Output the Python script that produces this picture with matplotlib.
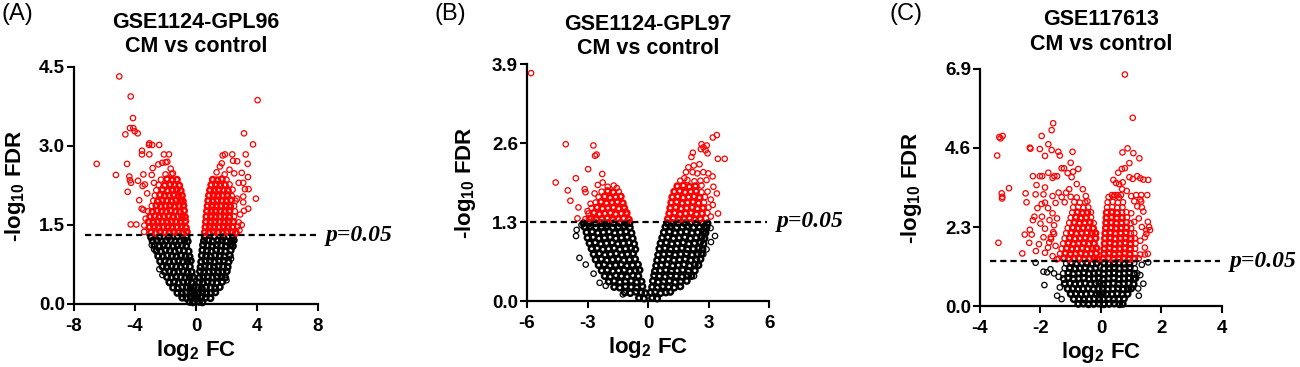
import numpy as np
import matplotlib
matplotlib.use("Agg")  # headless
import matplotlib.pyplot as plt

plt.rcParams["font.family"] = "Liberation Sans"
plt.rcParams["font.weight"] = "bold"
plt.rcParams["mathtext.fontset"] = "custom"
plt.rcParams["mathtext.rm"] = "Liberation Sans:bold"
plt.rcParams["mathtext.it"] = "Liberation Sans:bold"
plt.rcParams["mathtext.bf"] = "Liberation Sans:bold"
plt.rcParams["mathtext.default"] = "bf"

RED = "#ff0000"
FDR_CUTOFF = 0.05

TITLES = ["GSE1124-GPL96\nCM vs control", "GSE1124-GPL97\nCM vs control",
          "GSE117613\nCM vs control"]
LETTERS = ["(A)", "(B)", "(C)"]
XTICKS = [[-8, -4, 0, 4, 8], [-6, -3, 0, 3, 6], [-4, -2, 0, 2, 4]]
YTICKS = [[0.0, 1.5, 3.0, 4.5], [0.0, 1.3, 2.6, 3.9], [0.0, 2.3, 4.6, 6.9]]

# (log2 FC, -log10 FDR).
# *_CORE: the over-plotted dense cores (positions estimated), *_OUT: single marks
A_BLACK_CORE = [
    (-0.42, .04), (-0.2, .03), (0.2, .04), (0.42, .03),
    (-0.9, .12), (-0.62, .11), (-0.35, .13), (-0.1, .12), (0.1, .11), (0.35, .13), (0.64, .12), (0.95, .11),
    (-1.22, .21), (-0.93, .2), (-0.64, .22), (-0.36, .21), (-0.12, .2), (0.13, .21), (0.4, .22), (0.68, .2),
    (0.97, .21), (1.27, .22),
    (-1.5, .31), (-1.2, .3), (-0.9, .32), (-0.6, .31), (-0.34, .3), (-0.15, .32), (0.15, .31), (0.38, .3),
    (0.66, .32), (0.96, .31), (1.26, .3), (1.56, .32),
    (-1.74, .41), (-1.44, .42), (-1.14, .4), (-0.84, .41), (-0.54, .42), (-0.28, .4), (0.2, .41), (0.46, .4),
    (0.76, .42), (1.06, .41), (1.36, .4), (1.72, .42),
    (-1.9, .51), (-1.6, .5), (-1.3, .52), (-1.0, .51), (-0.7, .5), (-0.42, .52), (-0.2, .51), (0.22, .5),
    (0.48, .52), (0.78, .51), (1.08, .5), (1.38, .52), (1.68, .51), (1.92, .5),
    (-2.05, .61), (-1.75, .62), (-1.45, .6), (-1.15, .61), (-0.85, .62), (-0.55, .6), (-0.28, .61), (0.26, .62),
    (0.54, .6), (0.84, .61), (1.14, .62), (1.44, .6), (1.74, .61), (2.02, .62),
    (-2.2, .71), (-1.9, .7), (-1.6, .72), (-1.3, .71), (-1.0, .7), (-0.7, .72), (-0.4, .71), (0.3, .7),
    (0.58, .72), (0.88, .71), (1.18, .7), (1.48, .72), (1.78, .71), (2.08, .7),
    (-2.35, .81), (-2.05, .82), (-1.75, .8), (-1.45, .81), (-1.15, .82), (-0.85, .8), (-0.55, .81), (-0.34, .82),
    (0.34, .8), (0.62, .81), (0.92, .82), (1.22, .8), (1.52, .81), (1.82, .82), (2.14, .8),
    (-2.48, .91), (-2.18, .9), (-1.88, .92), (-1.58, .91), (-1.28, .9), (-0.98, .92), (-0.68, .91), (-0.42, .9),
    (0.38, .92), (0.66, .91), (0.96, .9), (1.26, .92), (1.56, .91), (1.86, .9), (2.22, .92),
    (-2.6, 1.01), (-2.3, 1.0), (-2.0, 1.02), (-1.7, 1.01), (-1.4, 1.0), (-1.1, 1.02), (-0.8, 1.01), (-0.48, 1.0),
    (0.42, 1.02), (0.72, 1.01), (1.02, 1.0), (1.32, 1.02), (1.62, 1.01), (1.92, 1.0), (2.28, 1.02),
    (-2.72, 1.11), (-2.42, 1.1), (-2.12, 1.12), (-1.82, 1.11), (-1.52, 1.1), (-1.22, 1.12), (-0.92, 1.11),
    (-0.64, 1.1), (0.46, 1.12), (0.76, 1.11), (1.06, 1.1), (1.36, 1.12), (1.66, 1.11), (1.96, 1.1),
    (2.26, 1.12), (2.42, 1.1),
    (-2.85, 1.2), (-2.55, 1.21), (-2.25, 1.19), (-1.95, 1.2), (-1.65, 1.21), (-1.35, 1.19), (-1.05, 1.2),
    (-0.75, 1.21), (-0.54, 1.19), (0.52, 1.2), (0.8, 1.21), (1.1, 1.19), (1.4, 1.2), (1.7, 1.21), (2.0, 1.19),
    (2.3, 1.2), (2.48, 1.21),
    (-2.95, 1.27), (-2.4, 1.27), (-1.8, 1.27), (-1.2, 1.28), (-0.62, 1.27), (0.58, 1.27), (1.2, 1.28),
    (1.8, 1.27), (2.42, 1.27),
]
A_BLACK_OUT = [
    (-1.77, .42), (1.75, .61), (-2.9, 1.12), (-2.75, 1.04), (-2.4, .66), (2.3, .86), (-2.2, .55), (2.0, .45),
]
A_RED_CORE = [
    (-2.95, 1.36), (-2.65, 1.35), (-2.35, 1.37), (-2.05, 1.36), (-1.75, 1.35), (-1.45, 1.37), (-1.15, 1.36),
    (-0.85, 1.35), (-0.6, 1.37),
    (-3.05, 1.46), (-2.75, 1.47), (-2.45, 1.45), (-2.15, 1.46), (-1.85, 1.47), (-1.55, 1.45), (-1.25, 1.46),
    (-0.95, 1.47), (-0.66, 1.45),
    (-3.1, 1.56), (-2.8, 1.55), (-2.5, 1.57), (-2.2, 1.56), (-1.9, 1.55), (-1.6, 1.57), (-1.3, 1.56),
    (-1.0, 1.55), (-0.7, 1.57),
    (-3.0, 1.66), (-2.7, 1.67), (-2.4, 1.65), (-2.1, 1.66), (-1.8, 1.67), (-1.5, 1.65), (-1.2, 1.66),
    (-0.92, 1.67), (-0.72, 1.65),
    (-2.85, 1.75), (-2.55, 1.77), (-2.25, 1.76), (-1.95, 1.75), (-1.65, 1.77), (-1.35, 1.76),
    (-1.05, 1.75), (-0.78, 1.77),
    (-2.6, 1.87), (-2.3, 1.85), (-2.0, 1.86), (-1.7, 1.87), (-1.4, 1.85), (-1.1, 1.86), (-0.82, 1.87),
    (-2.5, 1.95), (-2.2, 1.97), (-1.9, 1.96), (-1.6, 1.95), (-1.3, 1.97), (-1.02, 1.96), (-0.86, 1.95),
    (-2.35, 2.07), (-2.05, 2.05), (-1.75, 2.06), (-1.45, 2.07), (-1.15, 2.05), (-0.92, 2.06),
    (-2.2, 2.17), (-1.85, 2.15), (-1.55, 2.16), (-1.25, 2.17), (-1.0, 2.15),
    (-2.05, 2.25), (-1.7, 2.27), (-1.4, 2.26), (-1.1, 2.25),
    (-1.9, 2.37), (-1.55, 2.35), (-1.25, 2.36),
    (0.58, 1.36), (0.85, 1.35), (1.15, 1.37), (1.45, 1.36), (1.75, 1.35), (2.05, 1.37), (2.35, 1.36), (2.62, 1.35),
    (0.62, 1.46), (0.9, 1.47), (1.2, 1.45), (1.5, 1.46), (1.8, 1.47), (2.1, 1.45), (2.4, 1.46),
    (0.65, 1.56), (0.95, 1.55), (1.25, 1.57), (1.55, 1.56), (1.85, 1.55), (2.15, 1.57), (2.45, 1.56),
    (0.68, 1.66), (0.98, 1.67), (1.28, 1.65), (1.58, 1.66), (1.88, 1.67), (2.18, 1.65),
    (0.72, 1.76), (1.0, 1.75), (1.3, 1.77), (1.6, 1.76), (1.9, 1.75), (2.2, 1.77),
    (0.76, 1.86), (1.05, 1.87), (1.35, 1.85), (1.65, 1.86), (1.95, 1.87), (2.25, 1.85),
    (0.8, 1.96), (1.1, 1.95), (1.4, 1.97), (1.7, 1.96), (2.0, 1.95), (2.3, 1.97),
    (0.85, 2.06), (1.15, 2.07), (1.45, 2.05), (1.75, 2.06), (2.05, 2.07),
    (0.92, 2.16), (1.2, 2.15), (1.5, 2.17), (1.8, 2.16), (2.1, 2.15),
    (1.0, 2.26), (1.3, 2.27), (1.6, 2.25), (1.9, 2.26),
    (1.1, 2.36), (1.4, 2.35), (1.7, 2.37),
]
A_RED_OUT = [
    (-3.15, 1.76), (-2.9, 1.86), (-2.8, 1.96), (-2.7, 2.06), (-2.6, 2.16), (-2.45, 2.26), (-2.3, 2.36),
    (-2.0, 2.46), (-1.6, 2.47), (2.75, 1.47), (2.8, 1.55), (2.5, 1.66), (2.55, 1.76), (2.5, 1.86), (2.6, 1.96),
    (2.35, 2.05), (2.4, 2.17), (2.2, 2.27), (2.0, 2.36),
    (-5.03, 4.32), (-4.28, 3.94), (-4.13, 3.53), (-4.33, 3.34), (-4.11, 3.34), (-4.02, 3.28), (-3.82, 3.24),
    (-4.63, 3.22), (-3.06, 3.05), (-3.08, 3.02), (-2.87, 3.02), (-2.41, 3.02), (-3.54, 2.91), (-3.54, 2.84),
    (-3.06, 2.84), (-2.1, 2.84), (-1.77, 2.84), (-6.51, 2.66), (-4.52, 2.66), (-5.25, 2.45), (-4.37, 2.42),
    (-4.33, 2.35), (-4.26, 2.3), (-4.48, 2.13), (-3.8, 2.34), (-3.5, 2.24), (-3.35, 2.27), (-3.45, 2.46),
    (-3.72, 1.97), (-3.56, 1.81), (-3.45, 1.79), (-4.28, 1.51), (-3.91, 1.51), (-3.39, 1.49), (-3.4, 1.37),
    (-2.84, 2.58), (-2.47, 2.65), (-2.21, 2.68), (-1.99, 2.69), (-1.88, 2.7), (-1.66, 2.57), (-1.51, 2.48),
    (-3.2, 2.1), (-3.3, 1.62), (-2.75, 2.3), (-2.9, 2.45),
    (4.04, 3.87), (3.15, 3.24), (3.74, 3.03), (3.26, 2.84), (2.38, 2.84), (1.75, 2.82), (1.9, 2.84),
    (2.43, 2.72), (2.7, 2.71), (3.39, 2.66), (1.69, 2.67), (1.57, 2.61), (1.88, 2.46), (2.51, 2.48),
    (3.0, 2.49), (3.41, 2.41), (3.1, 2.3), (3.45, 2.18), (3.21, 2.18), (3.1, 2.04), (3.93, 2.0), (3.43, 1.81),
    (3.15, 1.77), (2.41, 1.37), (3.1, 1.93), (2.8, 2.3), (2.7, 2.0), (2.9, 1.7), (3.0, 1.5), (2.85, 1.4),
    (1.35, 2.5), (2.2, 2.55),
]

B_BLACK_CORE = [
    (-0.45, .05), (-0.2, .04), (0.2, .05), (0.45, .04),
    (-1.15, .14), (-0.88, .13), (-0.6, .15), (-0.34, .14), (-0.13, .13), (0.12, .14), (0.36, .15), (0.62, .13),
    (0.88, .14), (1.1, .15),
    (-1.68, .23), (-1.4, .22), (-1.12, .24), (-0.84, .23), (-0.56, .22), (-0.28, .24), (0.2, .23), (0.46, .22),
    (0.74, .24), (1.02, .23), (1.3, .22), (1.6, .24),
    (-1.95, .32), (-1.68, .33), (-1.4, .31), (-1.12, .32), (-0.84, .33), (-0.56, .31), (-0.32, .32), (0.24, .33),
    (0.5, .31), (0.78, .32), (1.06, .33), (1.34, .31), (1.62, .32), (1.92, .33),
    (-2.15, .41), (-1.88, .4), (-1.6, .42), (-1.32, .41), (-1.04, .4), (-0.76, .42), (-0.48, .41), (0.3, .42),
    (0.56, .41), (0.84, .4), (1.12, .42), (1.4, .41), (1.68, .4), (1.96, .42), (2.15, .41),
    (-2.3, .5), (-2.02, .51), (-1.74, .49), (-1.46, .5), (-1.18, .51), (-0.9, .49), (-0.62, .5), (-0.42, .51),
    (0.34, .49), (0.6, .5), (0.88, .51), (1.16, .49), (1.44, .5), (1.72, .51), (2.0, .49), (2.32, .5),
    (-2.45, .59), (-2.17, .6), (-1.89, .58), (-1.61, .59), (-1.33, .6), (-1.05, .58), (-0.77, .59), (-0.5, .6),
    (0.4, .58), (0.66, .59), (0.94, .6), (1.22, .58), (1.5, .59), (1.78, .6), (2.06, .58), (2.32, .6), (2.5, .59),
    (-2.6, .68), (-2.32, .69), (-2.04, .67), (-1.76, .68), (-1.48, .69), (-1.2, .67), (-0.92, .68), (-0.64, .69),
    (0.45, .67), (0.72, .68), (1.0, .69), (1.28, .67), (1.56, .68), (1.84, .69), (2.12, .67), (2.4, .68), (2.6, .69),
    (-2.7, .77), (-2.42, .78), (-2.14, .76), (-1.86, .77), (-1.58, .78), (-1.3, .76), (-1.02, .77), (-0.74, .78),
    (0.5, .76), (0.78, .77), (1.06, .78), (1.34, .76), (1.62, .77), (1.9, .78), (2.18, .76), (2.46, .77), (2.65, .78),
    (-2.8, .86), (-2.52, .87), (-2.24, .85), (-1.96, .86), (-1.68, .87), (-1.4, .85), (-1.12, .86), (-0.84, .87),
    (-0.63, .85), (0.56, .86), (0.84, .87), (1.12, .85), (1.4, .86), (1.68, .87), (1.96, .85), (2.24, .86),
    (2.52, .87), (2.7, .85),
    (-2.9, .95), (-2.62, .96), (-2.34, .94), (-2.06, .95), (-1.78, .96), (-1.5, .94), (-1.22, .95), (-0.94, .96),
    (-0.69, .94), (0.62, .95), (0.9, .96), (1.18, .94), (1.46, .95), (1.74, .96), (2.02, .94), (2.3, .95),
    (2.58, .96), (2.75, .94),
    (-3.0, 1.04), (-2.72, 1.05), (-2.44, 1.03), (-2.16, 1.04), (-1.88, 1.05), (-1.6, 1.03), (-1.32, 1.04),
    (-1.04, 1.05), (-0.76, 1.03), (0.7, 1.04), (0.98, 1.05), (1.26, 1.03), (1.54, 1.04), (1.82, 1.05),
    (2.1, 1.03), (2.38, 1.04), (2.66, 1.05), (2.8, 1.03),
    (-3.05, 1.13), (-2.77, 1.14), (-2.49, 1.12), (-2.21, 1.13), (-1.93, 1.14), (-1.65, 1.12), (-1.37, 1.13),
    (-1.09, 1.14), (-0.82, 1.12), (0.78, 1.13), (1.06, 1.14), (1.34, 1.12), (1.62, 1.13), (1.9, 1.14),
    (2.18, 1.12), (2.46, 1.13), (2.74, 1.14), (2.85, 1.12),
    (-3.15, 1.22), (-2.87, 1.23), (-2.59, 1.21), (-2.31, 1.22), (-2.03, 1.23), (-1.75, 1.21), (-1.47, 1.22),
    (-1.19, 1.23), (-0.9, 1.21), (0.86, 1.22), (1.14, 1.23), (1.42, 1.21), (1.7, 1.22), (1.98, 1.23),
    (2.26, 1.21), (2.54, 1.22), (2.82, 1.23), (2.9, 1.21),
    (-3.2, 1.28), (-2.9, 1.28), (-2.6, 1.28), (-2.3, 1.28), (-2.0, 1.28), (-1.7, 1.28), (-1.4, 1.28),
    (-1.1, 1.28), (-0.92, 1.28), (0.94, 1.28), (1.2, 1.28), (1.5, 1.28), (1.8, 1.28), (2.1, 1.28),
    (2.4, 1.28), (2.7, 1.28), (2.95, 1.28),
]
B_BLACK_OUT = [
    (-3.54, 1.17), (-3.57, 1.07), (-3.4, .71), (-3.09, .6), (-2.92, .95), (-2.1, .25), (-1.25, .11),
    (3.32, 1.07), (3.12, .97), (2.28, .41), (2.74, .77), (3.1, 1.2), (-3.3, 1.25), (-2.7, .45), (-2.4, .3),
    (2.9, .85),
]
B_RED_CORE = [
    (-2.83, 1.36), (-2.56, 1.34), (-2.29, 1.35), (-2.02, 1.36), (-1.75, 1.34), (-1.48, 1.35),
    (-1.21, 1.36), (-0.95, 1.34),
    (-2.68, 1.45), (-2.41, 1.43), (-2.14, 1.44), (-1.87, 1.45), (-1.6, 1.43), (-1.33, 1.44), (-1.06, 1.45),
    (-2.53, 1.54), (-2.26, 1.52), (-1.99, 1.53), (-1.72, 1.54), (-1.45, 1.52), (-1.18, 1.53),
    (-2.33, 1.63), (-2.06, 1.61), (-1.79, 1.62), (-1.52, 1.63), (-1.25, 1.61),
    (-2.15, 1.72), (-1.88, 1.7), (-1.6, 1.71), (-1.35, 1.72),
    (-2.0, 1.81), (-1.72, 1.79),
    (0.98, 1.35), (1.25, 1.36), (1.52, 1.34), (1.79, 1.35), (2.06, 1.36), (2.33, 1.34), (2.6, 1.35),
    (1.05, 1.44), (1.32, 1.45), (1.59, 1.43), (1.86, 1.44), (2.13, 1.45), (2.4, 1.43), (2.67, 1.44),
    (1.1, 1.53), (1.37, 1.54), (1.64, 1.52), (1.91, 1.53), (2.18, 1.54), (2.45, 1.52), (2.72, 1.53),
    (1.15, 1.62), (1.42, 1.63), (1.69, 1.61), (1.96, 1.62), (2.23, 1.63), (2.5, 1.61),
    (1.2, 1.71), (1.47, 1.72), (1.74, 1.7), (2.01, 1.71), (2.28, 1.72), (2.55, 1.7),
    (1.3, 1.8), (1.57, 1.81), (1.84, 1.79), (2.11, 1.8), (2.38, 1.81),
    (1.45, 1.89), (1.75, 1.9), (2.05, 1.88), (2.35, 1.89),
]
B_RED_OUT = [
    (-3.1, 1.35), (-2.95, 1.44), (-2.8, 1.53), (-2.6, 1.62), (-2.45, 1.71), (-2.3, 1.8), (-1.45, 1.8),
    (2.87, 1.36), (2.94, 1.45), (3.0, 1.54), (2.77, 1.62), (2.82, 1.71), (2.65, 1.79), (2.95, 1.8),
    (2.65, 1.9), (1.6, 1.98), (1.95, 1.99), (2.3, 1.97), (2.6, 1.98), (2.9, 1.99),
    (-5.8, 3.75), (-4.08, 2.58), (-2.71, 2.56), (-2.63, 2.39), (-2.55, 2.41), (-4.58, 1.95), (-3.58, 2.02),
    (-2.97, 2.17), (-2.27, 2.09), (-3.98, 1.82), (-3.85, 1.65), (-3.14, 1.84), (-3.1, 1.79), (-3.45, 1.54),
    (-3.5, 1.36), (-2.94, 1.36), (-2.65, 1.77), (-2.49, 1.91), (-2.25, 1.95), (-2.0, 1.88), (-1.7, 1.9),
    (-1.55, 1.86), (-2.85, 1.6), (-3.0, 1.48), (-1.2, 1.55), (-1.05, 1.42),
    (3.41, 2.73), (3.21, 2.69), (2.91, 2.56), (2.65, 2.58), (2.75, 2.53), (2.85, 2.48), (2.62, 2.5),
    (2.95, 2.43), (2.22, 2.44), (3.46, 2.34), (3.8, 2.34), (2.15, 2.37), (2.27, 2.23), (1.88, 2.12),
    (2.21, 2.12), (2.44, 2.1), (2.74, 2.12), (2.99, 2.1), (3.47, 1.44), (3.11, 1.39), (3.24, 1.88),
    (3.41, 1.77), (3.11, 1.67), (3.21, 1.58), (2.0, 2.2), (2.55, 2.25), (3.2, 2.05), (1.8, 2.02),
]

C_BLACK_CORE = [
    (-0.75, .06), (-0.58, .07), (-0.41, .05), (-0.24, .06), (-0.07, .07), (0.1, .05), (0.27, .06), (0.44, .07),
    (0.61, .05), (0.72, .06),
    (-0.9, .2), (-0.73, .21), (-0.56, .19), (-0.39, .2), (-0.22, .21), (-0.06, .19), (0.08, .2), (0.25, .21),
    (0.42, .19), (0.59, .2), (0.76, .21),
    (-1.0, .35), (-0.83, .36), (-0.66, .34), (-0.49, .35), (-0.32, .36), (-0.15, .34), (-0.04, .35), (0.06, .36),
    (0.2, .34), (0.37, .35), (0.54, .36), (0.71, .34), (0.88, .35),
    (-1.1, .5), (-0.93, .51), (-0.76, .49), (-0.59, .5), (-0.42, .51), (-0.25, .49), (-0.08, .5), (0.06, .51),
    (0.22, .49), (0.39, .5), (0.56, .51), (0.73, .49), (0.9, .5), (1.0, .51),
    (-1.2, .65), (-1.03, .66), (-0.86, .64), (-0.69, .65), (-0.52, .66), (-0.35, .64), (-0.18, .65), (-0.05, .66),
    (0.07, .64), (0.24, .65), (0.41, .66), (0.58, .64), (0.75, .65), (0.92, .66), (1.08, .64),
    (-1.08, .81), (-0.91, .79), (-0.74, .8), (-0.57, .81), (-0.4, .79), (-0.23, .8), (-0.07, .81),
    (0.08, .79), (0.25, .8), (0.42, .81), (0.59, .79), (0.76, .8), (0.93, .81), (1.1, .79),
    (-1.08, .96), (-0.91, .94), (-0.74, .95), (-0.57, .96), (-0.4, .94), (-0.23, .95), (-0.08, .96),
    (0.09, .94), (0.26, .95), (0.43, .96), (0.6, .94), (0.77, .95), (0.94, .96), (1.1, .94),
    (-1.03, 1.11), (-0.86, 1.09), (-0.69, 1.1), (-0.52, 1.11), (-0.35, 1.09), (-0.18, 1.1),
    (0.1, 1.09), (0.27, 1.1), (0.44, 1.11), (0.61, 1.09), (0.78, 1.1), (0.95, 1.11),
    (-0.98, 1.25), (-0.81, 1.23), (-0.64, 1.24), (-0.47, 1.25), (-0.3, 1.23), (-0.14, 1.24),
    (0.1, 1.25), (0.26, 1.23), (0.43, 1.24), (0.6, 1.25), (0.77, 1.23), (0.94, 1.24),
]
C_BLACK_OUT = [
    (-1.25, .8), (1.16, .8), (-1.25, .95), (1.2, .95), (-1.2, 1.1), (1.12, 1.09), (-1.15, 1.24), (1.1, 1.25),
    (-2.16, 1.26), (-1.9, 1.0), (-1.78, .98), (-1.67, 1.07), (-1.55, .95), (-1.87, .61), (-1.36, .54),
    (-1.22, .77), (1.56, 1.27), (1.35, 1.2), (1.23, .51), (1.07, .8), (1.3, .9), (-1.45, .3), (-1.3, .2),
    (1.25, .3), (-1.4, .85), (1.4, .65),
]
C_RED_CORE = [
    (-1.23, 1.39), (-1.06, 1.37), (-0.89, 1.38), (-0.72, 1.39), (-0.55, 1.37), (-0.38, 1.38),
    (-0.22, 1.39), (-0.12, 1.37),
    (-1.18, 1.53), (-1.01, 1.51), (-0.84, 1.52), (-0.67, 1.53), (-0.5, 1.51), (-0.33, 1.52), (-0.16, 1.53),
    (-1.13, 1.68), (-0.96, 1.66), (-0.79, 1.67), (-0.62, 1.68), (-0.45, 1.66), (-0.28, 1.67), (-0.15, 1.68),
    (-1.08, 1.83), (-0.91, 1.81), (-0.74, 1.82), (-0.57, 1.83), (-0.4, 1.81), (-0.23, 1.82),
    (-1.03, 1.98), (-0.86, 1.96), (-0.69, 1.97), (-0.52, 1.98), (-0.35, 1.96), (-0.18, 1.97),
    (-0.98, 2.13), (-0.81, 2.11), (-0.64, 2.12), (-0.47, 2.13), (-0.3, 2.11), (-0.18, 2.12),
    (-0.93, 2.28), (-0.76, 2.26), (-0.59, 2.27), (-0.42, 2.28), (-0.26, 2.26),
    (-0.88, 2.43), (-0.71, 2.41), (-0.54, 2.42), (-0.37, 2.43),
    (-0.83, 2.58), (-0.66, 2.56), (-0.49, 2.57),
    (-0.78, 2.73), (-0.61, 2.71), (-0.45, 2.72),
    (0.08, 1.38), (0.25, 1.39), (0.42, 1.37), (0.59, 1.38), (0.76, 1.39), (0.93, 1.37), (1.1, 1.38),
    (0.1, 1.52), (0.27, 1.53), (0.44, 1.51), (0.61, 1.52), (0.78, 1.53), (0.95, 1.51),
    (0.11, 1.67), (0.28, 1.68), (0.45, 1.66), (0.62, 1.67), (0.79, 1.68), (0.96, 1.66),
    (0.12, 1.82), (0.29, 1.83), (0.46, 1.81), (0.63, 1.82), (0.8, 1.83), (0.97, 1.81),
    (0.13, 1.97), (0.3, 1.98), (0.47, 1.96), (0.64, 1.97), (0.81, 1.98), (0.98, 1.96),
    (0.14, 2.12), (0.31, 2.13), (0.48, 2.11), (0.65, 2.12), (0.82, 2.13),
    (0.16, 2.27), (0.33, 2.28), (0.5, 2.26), (0.67, 2.27), (0.84, 2.28),
    (0.17, 2.42), (0.34, 2.43), (0.51, 2.41), (0.68, 2.42),
    (0.18, 2.57), (0.35, 2.58), (0.52, 2.56), (0.69, 2.57),
    (0.19, 2.72), (0.36, 2.73), (0.53, 2.71),
]
C_RED_OUT = [
    (-1.4, 1.38), (-1.35, 1.52), (-1.3, 1.67), (-1.25, 1.82), (-1.2, 1.97), (-1.15, 2.12), (-1.1, 2.27),
    (-1.05, 2.42), (-0.24, 2.41), (-1.0, 2.57), (-0.33, 2.58), (-0.95, 2.72), (-0.33, 2.73),
    (-0.92, 2.87), (-0.75, 2.88), (-0.58, 2.86), (-0.42, 2.87),
    (-1.2, 3.02), (-0.88, 3.03), (-0.7, 3.01), (-0.52, 3.02), (-1.3, 3.17), (-1.0, 3.18), (-0.8, 3.16),
    (-2.0, 2.4), (-1.85, 2.25), (-1.7, 2.5), (-1.55, 2.35), (-1.6, 2.7), (-1.75, 2.85), (-1.5, 3.0),
    (-1.9, 2.0), (-1.65, 1.95), (-1.5, 1.75), (-1.75, 1.7), (-2.05, 1.8), (-1.85, 1.55), (-1.6, 1.45),
    (-1.95, 2.6), (-2.1, 2.85), (-1.6, 3.2), (-1.45, 2.55), (-1.55, 2.1), (-1.4, 3.3),
    (1.25, 1.39), (1.12, 1.52), (1.13, 1.67), (1.14, 1.82), (1.12, 1.97), (0.99, 2.11), (1.1, 2.12),
    (1.0, 2.26), (0.85, 2.43), (0.98, 2.41), (0.86, 2.58), (0.7, 2.72), (0.84, 2.73),
    (0.2, 2.87), (0.37, 2.88), (0.54, 2.86), (0.71, 2.87), (0.22, 3.02), (0.39, 3.03), (0.56, 3.01),
    (0.73, 3.02), (0.25, 3.17), (0.42, 3.18), (0.6, 3.16),
    (1.3, 1.5), (1.45, 1.7), (1.3, 1.9), (1.5, 2.1), (1.35, 2.3), (1.25, 2.55), (1.4, 2.75), (1.2, 2.9),
    (1.1, 3.05), (1.3, 3.1), (1.0, 3.2), (0.85, 3.35), (0.7, 3.4), (1.0, 2.7), (1.1, 2.45),
    (-1.58, 5.32), (-1.63, 5.12), (-1.96, 4.95), (-3.36, 4.92), (-3.25, 4.95), (-3.32, 4.88), (-3.43, 4.38),
    (-2.35, 4.61), (-2.33, 4.58), (-2.02, 4.57), (-1.85, 4.37), (-1.74, 4.71), (-1.63, 4.54), (-1.41, 4.49),
    (-1.36, 4.38), (-0.94, 4.49), (-1.0, 4.17), (-0.92, 3.91), (-0.75, 3.99), (-1.1, 3.87), (-0.97, 3.75),
    (-1.3, 4.01), (-1.22, 4.01), (-1.54, 3.78), (-1.6, 3.73), (-1.45, 3.78), (-2.02, 3.78), (-1.94, 3.78),
    (-2.25, 3.78), (-1.74, 3.88), (-0.8, 3.55), (-2.13, 3.52), (-3.04, 3.43), (-3.28, 3.28), (-3.26, 3.18),
    (-3.27, 3.13), (-2.49, 3.28), (-2.46, 3.02), (-2.16, 3.25), (-1.9, 3.25), (-1.96, 2.97), (-1.85, 3.01),
    (-1.85, 3.45), (-2.2, 2.6), (-2.25, 2.5), (-2.35, 2.22), (-2.52, 2.08), (-2.29, 2.08), (-2.37, 1.84),
    (-3.39, 1.84), (-2.6, 1.53), (-2.15, 1.6), (-1.71, 1.85), (-1.66, 2.0), (-1.58, 2.15), (-1.46, 1.36),
    (-0.6, 3.4), (-0.5, 3.2), (-0.45, 3.05), (-1.15, 3.3), (-1.05, 3.4),
    (0.79, 6.74), (1.05, 5.48), (0.88, 4.59), (0.71, 4.47), (1.07, 4.45), (1.27, 4.3), (0.94, 4.16),
    (0.79, 4.01), (0.69, 3.99), (0.57, 3.88), (0.94, 3.75), (1.05, 3.7), (1.2, 3.78), (1.3, 3.72),
    (1.4, 3.68), (1.56, 3.67), (0.41, 3.67), (0.5, 3.58), (0.6, 3.55), (0.72, 3.6), (1.16, 3.23), (1.33, 3.23),
    (1.53, 3.23), (0.36, 3.23), (0.45, 3.23), (0.55, 3.23), (0.66, 3.23), (1.33, 3.04), (1.35, 2.87),
    (1.45, 2.0), (1.5, 2.2), (1.59, 2.3), (1.55, 2.45), (1.62, 2.21), (1.45, 1.5), (1.55, 1.52),
]

PANELS = [
    (A_BLACK_CORE, A_BLACK_OUT, A_RED_CORE, A_RED_OUT),
    (B_BLACK_CORE, B_BLACK_OUT, B_RED_CORE, B_RED_OUT),
    (C_BLACK_CORE, C_BLACK_OUT, C_RED_CORE, C_RED_OUT),
]

AX_POS = [[0.0569, 0.1717, 0.1877, 0.6458],
          [0.4054, 0.1798, 0.1862, 0.6458],
          [0.7538, 0.1662, 0.1862, 0.6458]]
TITLE_XY = [(0.1508, 0.905), (0.4985, 0.9), (0.8469, 0.913)]
LETTER_XY = [(0.0015, 0.962), (0.3346, 0.962), (0.6846, 0.962)]
YLAB_X = [-0.238, -0.256, -0.281]
LINE_XMIN = [0.045, 0.012, 0.041]

fig = plt.figure(figsize=(13, 3.67), dpi=100)
cut = -np.log10(FDR_CUTOFF)


def dots(ax, pts, color, lw, z):
    x, y = zip(*pts)
    ax.scatter(x, y, s=15, facecolors="none", edgecolors=color,
               linewidths=lw, clip_on=False, zorder=z)


for i in range(3):
    ax = fig.add_axes(AX_POS[i])
    xt, yt = XTICKS[i], YTICKS[i]
    b_core, b_out, r_core, r_out = PANELS[i]
    # overlapping cores are drawn with heavier rings so they read as solid
    dots(ax, b_core, "black", 1.8, 2)
    dots(ax, b_out, "black", 0.9, 2)
    dots(ax, r_core, RED, 1.8, 3)
    dots(ax, r_out, RED, 0.9, 3)
    ax.axhline(cut, xmin=LINE_XMIN[i], xmax=0.99, color="black", lw=1.6,
               dashes=(2.8, 1.8), zorder=4)
    ax.text(1.03, cut, "p=0.05", transform=ax.get_yaxis_transform(),
            family="Liberation Serif", style="italic", weight="bold",
            fontsize=17, va="center", ha="left")

    ax.set_xlim(xt[0], xt[-1])
    ax.set_ylim(yt[0], yt[-1])
    ax.set_xticks(xt)
    ax.set_yticks(yt)
    ax.set_xticklabels([str(v) for v in xt])
    ax.set_yticklabels([f"{v:.1f}" for v in yt])
    for lab in ax.get_xticklabels() + ax.get_yticklabels():
        lab.set_fontweight("bold")
        lab.set_fontsize(13.5)
    ax.tick_params(axis="both", width=1.5, length=5)
    ax.tick_params(axis="x", pad=5)
    ax.tick_params(axis="y", pad=1.5)
    for s in ("top", "right"):
        ax.spines[s].set_visible(False)
    for s in ("left", "bottom"):
        ax.spines[s].set_linewidth(1.6)

    ax.set_xlabel("log$_2$ FC", fontsize=16, fontweight="bold")
    ax.set_ylabel("-log$_{10}$ FDR", fontsize=16, fontweight="bold")
    ax.xaxis.set_label_coords(0.5, -0.196)
    ax.xaxis.label.set_va("center")
    ax.yaxis.set_label_coords(YLAB_X[i], 0.5)
    ax.yaxis.label.set_va("center")

    fig.text(TITLE_XY[i][0], TITLE_XY[i][1], TITLES[i], ha="center",
             va="center", fontsize=15.5, fontweight="bold")
    fig.text(LETTER_XY[i][0], LETTER_XY[i][1], LETTERS[i], ha="left",
             va="center", fontsize=17, fontweight="normal")

fig.savefig("out.png", dpi=100)
